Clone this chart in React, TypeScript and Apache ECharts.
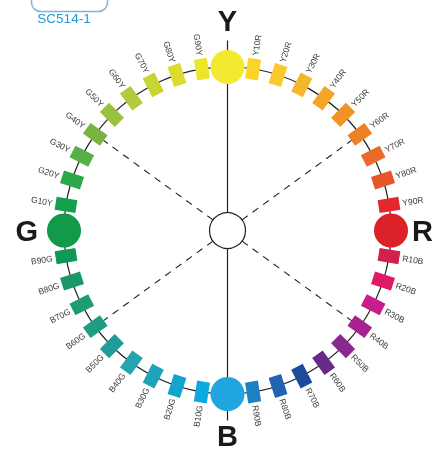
import React, { useEffect, useRef } from 'react';
import * as echarts from 'echarts';

// NCS hue circle: 40 hues, clockwise from Y
const hueNames = [
  'Y', 'Y10R', 'Y20R', 'Y30R', 'Y40R', 'Y50R', 'Y60R', 'Y70R', 'Y80R', 'Y90R',
  'R', 'R10B', 'R20B', 'R30B', 'R40B', 'R50B', 'R60B', 'R70B', 'R80B', 'R90B',
  'B', 'B10G', 'B20G', 'B30G', 'B40G', 'B50G', 'B60G', 'B70G', 'B80G', 'B90G',
  'G', 'G10Y', 'G20Y', 'G30Y', 'G40Y', 'G50Y', 'G60Y', 'G70Y', 'G80Y', 'G90Y',
];
const hueColors = [
  '#f3e930', '#fbd42a', '#f9c92e', '#f6b62c', '#f3a52a', '#f19227', '#ee8027', '#ec6a27', '#e85627', '#e4262d',
  '#dd2129', '#d3214d', '#e01966', '#c71d8c', '#a8228f', '#87278f', '#682a88', '#1d4b9b', '#2064af', '#1c80c2',
  '#20a5df', '#0aaade', '#11a4cc', '#1ea3b9', '#24a4ae', '#219a9a', '#1e9c84', '#1f9b75', '#199866', '#12975a',
  '#12994a', '#14a04c', '#2aa84a', '#55b046', '#7ab342', '#98c13e', '#b1cb3b', '#c8d334', '#dcdc2e', '#ece52b',
];
const primaryHues = ['Y', 'R', 'B', 'G'];
const dashedHues = ['Y60R', 'R40B', 'B60G', 'G40Y'];
const axisHues = ['Y', 'B'];
const badgeText = 'SC514-1';

const idx = (n: string) => hueNames.indexOf(n);

export default function App() {
  const ref = useRef<HTMLDivElement>(null);
  useEffect(() => {
    document.body.style.margin = '0';
    const chart = echarts.init(ref.current!, null, { renderer: 'svg' });
    const ink = '#222';
    const swatchData = hueNames
      .map((name, i) => ({ name, value: [1, i], color: hueColors[i] }))
      .filter((d) => !primaryHues.includes(d.name));

    const angleOf = (api: any, a: number) => {
      const p = api.coord([1, a]);
      const c = api.coord([0, a]);
      return { p, c, phi: Math.atan2(c[1] - p[1], p[0] - c[0]) };
    };

    chart.setOption({
      animation: false,
      polar: { center: [227.5, 230.5], radius: 163.5 },
      angleAxis: {
        type: 'value', min: 0, max: 40, startAngle: 90, clockwise: true,
        axisLine: { show: true, lineStyle: { color: ink, width: 1.2 } },
        axisTick: { show: false }, axisLabel: { show: false },
        splitLine: { show: false }, splitArea: { show: false },
      },
      radiusAxis: {
        type: 'value', min: 0, max: 1,
        axisLine: { show: false }, axisTick: { show: false }, axisLabel: { show: false },
        splitLine: { show: false }, splitArea: { show: false },
      },
      graphic: [
        {
          type: 'rect', left: 29, top: -20, silent: true,
          shape: { width: 76, height: 29, r: 9 },
          style: { fill: 'none', stroke: '#7fb5dc', lineWidth: 1.5 },
        },
        {
          type: 'text', x: 64, y: 18.5, silent: true,
          style: { text: badgeText, fill: '#1f9ad8', fontSize: 13.5, fontFamily: '"Liberation Sans", Arial, sans-serif', align: 'center', verticalAlign: 'middle' },
        },
      ],
      series: [
        {
          type: 'custom', coordinateSystem: 'polar', silent: true, z: 1,
          data: axisHues.map((n) => [1, idx(n)]),
          renderItem: (params: any, api: any) => {
            const a = api.value(1);
            const p0 = api.coord([0, a]);
            const p1 = api.coord([1.162, a]);
            return { type: 'line', shape: { x1: p0[0], y1: p0[1], x2: p1[0], y2: p1[1] }, style: { stroke: ink, lineWidth: 1.2 } };
          },
        },
        {
          type: 'custom', coordinateSystem: 'polar', silent: true, z: 1,
          data: dashedHues.map((n) => [1, idx(n)]),
          renderItem: (params: any, api: any) => {
            const a = api.value(1);
            const p0 = api.coord([0.11, a]);
            const p1 = api.coord([1, a]);
            return { type: 'line', shape: { x1: p0[0], y1: p0[1], x2: p1[0], y2: p1[1] }, style: { stroke: ink, lineWidth: 1.1, lineDash: [7, 6] } };
          },
        },
        {
          type: 'scatter', coordinateSystem: 'polar', silent: true, z: 2,
          symbolSize: 36,
          itemStyle: { color: '#fff', borderColor: ink, borderWidth: 1.2, opacity: 1 },
          data: [[0, 0]],
        },
        {
          type: 'custom', coordinateSystem: 'polar', silent: true, z: 3,
          data: swatchData.map((d) => ({ name: d.name, value: d.value, itemStyle: { color: d.color } })),
          renderItem: (params: any, api: any) => {
            const a = api.value(1);
            const { p, phi } = angleOf(api, a);
            const name = hueNames[a];
            const color = hueColors[a];
            const lp = api.coord([1.083, a]);
            const right = Math.cos(phi) > 0;
            return {
              type: 'group',
              children: [
                {
                  type: 'rect', x: p[0], y: p[1], rotation: phi - Math.PI / 2,
                  shape: { x: -6.5, y: -10.5, width: 13, height: 21 },
                  style: { fill: color },
                },
                {
                  type: 'text', x: lp[0], y: lp[1], rotation: right ? phi : phi + Math.PI,
                  style: {
                    text: name, fill: '#3a3a3a', fontSize: 8.5,
                    fontFamily: '"Liberation Sans", Arial, sans-serif',
                    align: right ? 'left' : 'right', verticalAlign: 'middle',
                  },
                },
              ],
            };
          },
        },
        {
          type: 'scatter', coordinateSystem: 'polar', silent: true, z: 4,
          symbolSize: 34,
          data: primaryHues.map((n) => ({ name: n, value: [1, idx(n)], itemStyle: { color: hueColors[idx(n)], opacity: 1 } })),
        },
        {
          type: 'custom', coordinateSystem: 'polar', silent: true, z: 4,
          data: primaryHues.map((n) => [1, idx(n)]),
          renderItem: (params: any, api: any) => {
            const a = api.value(1);
            const { phi } = angleOf(api, a);
            const cs = Math.cos(phi);
            const sn = Math.sin(phi);
            let r = 1.284;
            let align = 'center';
            if (cs > 0.5) { r = 1.128; align = 'left'; }
            else if (cs < -0.5) { r = 1.159; align = 'right'; }
            else if (sn < 0) { r = 1.257; }
            const p = api.coord([r, a]);
            return {
              type: 'text', x: p[0], y: p[1],
              style: {
                text: hueNames[a], fill: '#1a1a1a', fontSize: 29, fontWeight: 'bold',
                fontFamily: '"Liberation Sans", Arial, sans-serif',
                align, verticalAlign: 'middle',
              },
            };
          },
        },
      ],
    });
    return () => chart.dispose();
  }, []);
  return <div ref={ref} style={{ position: 'fixed', left: 0, top: 0, width: 433, height: 451 }} />;
}
